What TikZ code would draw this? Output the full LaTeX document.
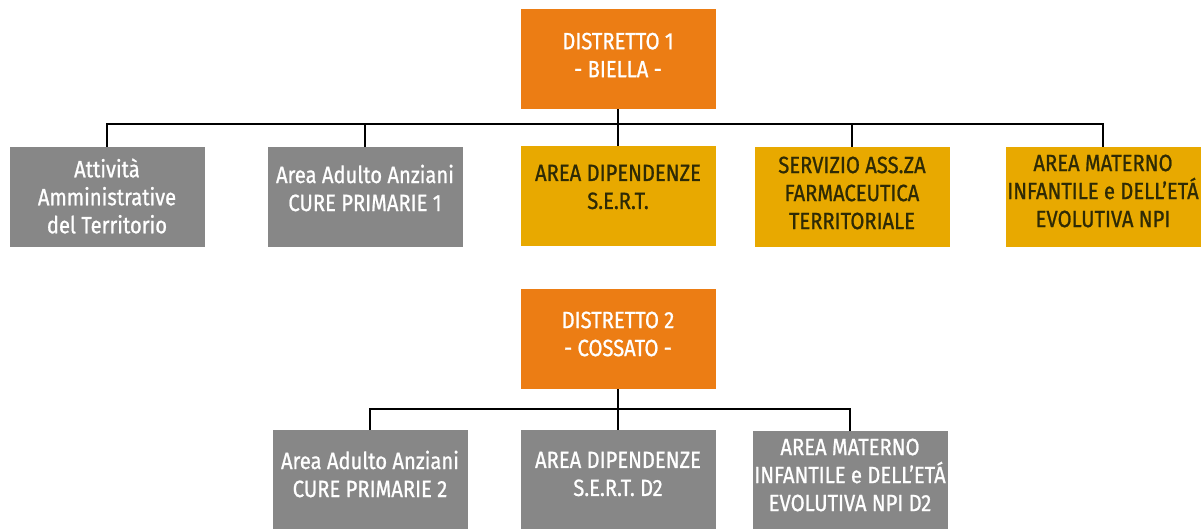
\documentclass[tikz,border=0pt]{standalone}
\usepackage{fontspec}
\setmainfont{Fira Sans}[FakeStretch=0.86,FakeBold=0.9]
\definecolor{orangeD}{HTML}{EC7D14}
\definecolor{goldA}{HTML}{E8A900}
\definecolor{grayA}{HTML}{878787}
\definecolor{darkT}{HTML}{2E2A05}
\begin{document}
\begin{tikzpicture}[x=1pt,y=-1pt,
  box/.style={rectangle, minimum width=195pt, minimum height=100pt, inner sep=0pt, draw=none},
  obox/.style={box, fill=orangeD},
  gbox/.style={box, fill=goldA},
  ybox/.style={box, fill=grayA},
  txt/.style={align=center, font=\fontsize{23.5}{28}\selectfont, inner sep=0pt},
  wtxt/.style={txt, text=white},
  dtxt/.style={txt, text=darkT},
  conn/.style={draw=black, line width=1.8pt}]
\useasboundingbox (0,0) rectangle (1203,528);
\clip (0,0) rectangle (1203,528);
% District 1
\node[obox] (d1) at (618,59) {};
\node[wtxt] (d1t) at (618,55) {DISTRETTO 1\\- BIELLA -};
\node[ybox] (a1) at (107,197) {};
\node[wtxt] (a1t) at (107,196) {Attività\\Amministrative\\del Territorio};
\node[ybox] (a2) at (365,197) {};
\node[wtxt] (a2t) at (365,188) {Area Adulto Anziani\\CURE PRIMARIE 1};
\node[gbox] (a3) at (618,196) {};
\node[dtxt] (a3t) at (618,187) {AREA DIPENDENZE\\S.E.R.T.};
\node[gbox] (a4) at (852,197) {};
\node[dtxt] (a4t) at (852,193) {SERVIZIO ASS.ZA\\FARMACEUTICA\\TERRITORIALE};
\node[gbox] (a5) at (1103,197) {};
\node[dtxt] (a5t) at (1103,191) {AREA MATERNO\\INFANTILE e DELL’ETÁ\\EVOLUTIVA NPI};
\coordinate (j1) at (618,124);
\draw[conn] (d1.south) -- (a3.north);
\draw[conn] (a1.north) |- (j1) -| (a5.north);
\draw[conn] (a2.north) -- (a2.north|-j1);
\draw[conn] (a4.north) -- (a4.north|-j1);
% District 2
\node[obox] (d2) at (618,339) {};
\node[wtxt] (d2t) at (618,334) {DISTRETTO 2\\- COSSATO -};
\node[ybox] (b1) at (370,480) {};
\node[wtxt] (b1t) at (370,474) {Area Adulto Anziani\\CURE PRIMARIE 2};
\node[ybox] (b2) at (618,480) {};
\node[wtxt] (b2t) at (618,474) {AREA DIPENDENZE\\S.E.R.T. D2};
\node[ybox] (b3) at (850,481) {};
\node[wtxt] (b3t) at (850,475) {AREA MATERNO\\INFANTILE e DELL’ETÁ\\EVOLUTIVA NPI D2};
\coordinate (j2) at (618,409);
\draw[conn] (d2.south) -- (b2.north);
\draw[conn] (b1.north) |- (j2) -| (b3.north);
\end{tikzpicture}
\end{document}
